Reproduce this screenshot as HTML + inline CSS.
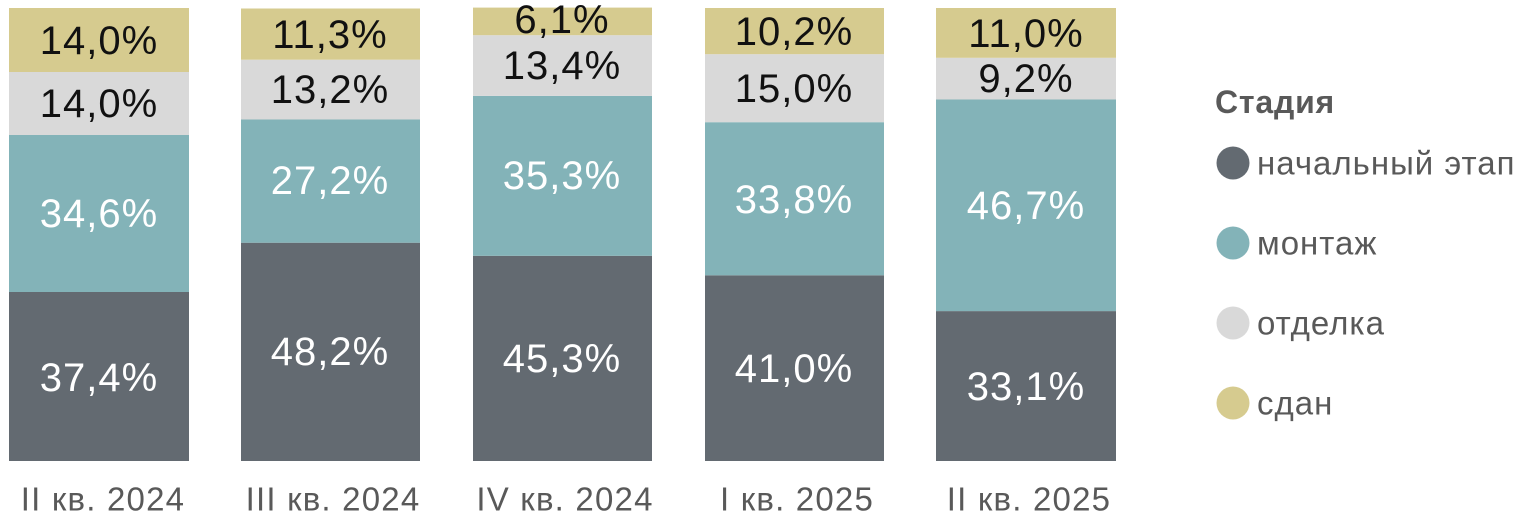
<!DOCTYPE html>
<html><head><meta charset="utf-8"><style>body{margin:0;background:#fff}svg{display:block}text{font-family:"Liberation Sans",sans-serif}</style></head><body>
<svg width="1528" height="522" viewBox="0 0 1528 522" xmlns="http://www.w3.org/2000/svg">
<rect x="9" y="292" width="180" height="169" fill="#636a71"/><rect x="9" y="135" width="180" height="157" fill="#83b3b8"/><rect x="9" y="72" width="180" height="63" fill="#d9d9d9"/><rect x="9" y="8" width="180" height="64" fill="#d6cb8f"/>
<rect x="241" y="242.7" width="179" height="218.3" fill="#636a71"/><rect x="241" y="119.5" width="179" height="123.2" fill="#83b3b8"/><rect x="241" y="59.7" width="179" height="59.8" fill="#d9d9d9"/><rect x="241" y="8.5" width="179" height="51.2" fill="#d6cb8f"/>
<rect x="473" y="255.8" width="179" height="205.2" fill="#636a71"/><rect x="473" y="95.9" width="179" height="159.9" fill="#83b3b8"/><rect x="473" y="35.2" width="179" height="60.7" fill="#d9d9d9"/><rect x="473" y="7.6" width="179" height="27.6" fill="#d6cb8f"/>
<rect x="705" y="275.3" width="179" height="185.7" fill="#636a71"/><rect x="705" y="122.2" width="179" height="153.1" fill="#83b3b8"/><rect x="705" y="54.2" width="179" height="68" fill="#d9d9d9"/><rect x="705" y="8" width="179" height="46.2" fill="#d6cb8f"/>
<rect x="936" y="311.1" width="180" height="149.9" fill="#636a71"/><rect x="936" y="99.5" width="180" height="211.6" fill="#83b3b8"/><rect x="936" y="57.8" width="180" height="41.7" fill="#d9d9d9"/><rect x="936" y="8" width="180" height="49.8" fill="#d6cb8f"/>
<g font-size="40" letter-spacing="1" text-anchor="middle" dominant-baseline="central">
<text x="99" y="378" fill="#fff">37,4%</text><text x="99" y="214" fill="#fff">34,6%</text><text x="99" y="104" fill="#111">14,0%</text><text x="99" y="41" fill="#111">14,0%</text>
<text x="330" y="352" fill="#fff">48,2%</text><text x="330" y="181" fill="#fff">27,2%</text><text x="330" y="90" fill="#111">13,2%</text><text x="330" y="35" fill="#111">11,3%</text>
<text x="562" y="359" fill="#fff">45,3%</text><text x="562" y="176" fill="#fff">35,3%</text><text x="562" y="66" fill="#111">13,4%</text><text x="562" y="20" fill="#111">6,1%</text>
<text x="794" y="369" fill="#fff">41,0%</text><text x="794" y="200" fill="#fff">33,8%</text><text x="794" y="89" fill="#111">15,0%</text><text x="794" y="32" fill="#111">10,2%</text>
<text x="1026" y="387" fill="#fff">33,1%</text><text x="1026" y="206" fill="#fff">46,7%</text><text x="1026" y="79" fill="#111">9,2%</text><text x="1026" y="34" fill="#111">11,0%</text>
</g>
<g font-size="33" letter-spacing="1.2" fill="#595959" text-anchor="middle" dominant-baseline="central">
<text x="103" y="499">II кв. 2024</text><text x="333" y="499">III кв. 2024</text><text x="565" y="499">IV кв. 2024</text><text x="797" y="499">I кв. 2025</text><text x="1029" y="499">II кв. 2025</text>
</g>
<text x="1215" y="102" font-size="32" font-weight="bold" letter-spacing="0.8" fill="#595959" dominant-baseline="central">Стадия</text>
<g font-size="33" letter-spacing="1" fill="#595959" dominant-baseline="central">
<circle cx="1233" cy="163" r="16.5" fill="#636a71"/><text x="1257" y="163">начальный этап</text>
<circle cx="1233" cy="243" r="16.5" fill="#83b3b8"/><text x="1257" y="243">монтаж</text>
<circle cx="1233" cy="323" r="16.5" fill="#d9d9d9"/><text x="1257" y="323">отделка</text>
<circle cx="1233" cy="403" r="16.5" fill="#d6cb8f"/><text x="1257" y="403">сдан</text>
</g>
</svg>
</body></html>
